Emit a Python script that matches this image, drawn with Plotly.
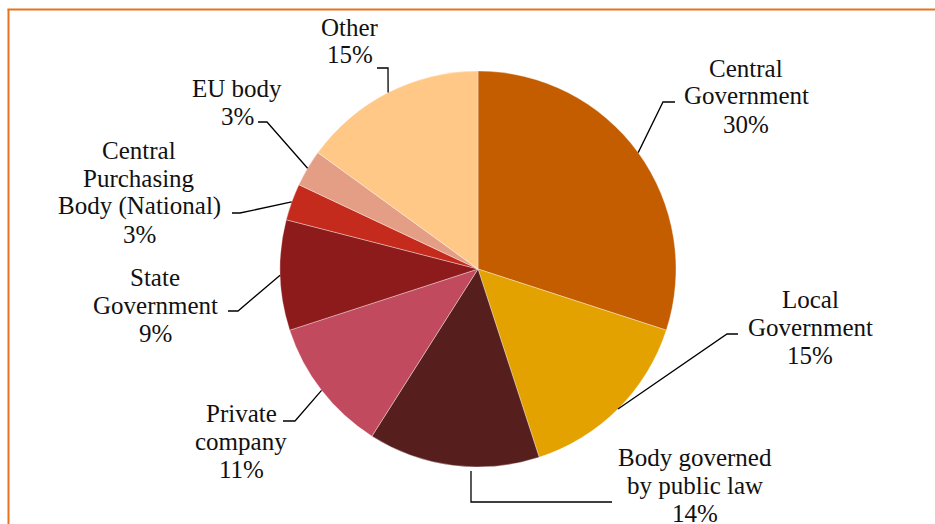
import math
import plotly.graph_objects as go

# Contracting authority types and their share of contracts (%)
categories = [
    "Central\nGovernment",
    "Local\nGovernment",
    "Body governed\nby public law",
    "Private\ncompany",
    "State\nGovernment",
    "Central\nPurchasing\nBody (National)",
    "EU body",
    "Other",
]
shares = [30, 15, 14, 11, 9, 3, 3, 15]
colors = ["#C45C00", "#E3A200", "#561F1E", "#C24A5E",
          "#8E1B1C", "#C42B1C", "#E49E86", "#FFC886"]

W, H = 935, 524
CX, CY, R = 478, 269, 198          # pie centre and radius in pixels

# label block centres (pixels) and leader-line elbows/ends
label_pos = [(746, 96), (810, 327), (695, 485), (241, 441),
             (155, 305), (139, 192), (237, 102), (350, 41)]
leader_elbow = [(663, 102), (727, 334), (471, 502), (295, 421),
                (238, 311), (240, 213), (267, 122), (388, 68)]
leader_end = [(675, 102), (738, 334), (612, 502), (283, 421),
              (228, 311), (232, 213), (258, 122), (377, 68)]
leader_start_override = {2: (471, 471)}

LINE_GAP = 28
FONT = dict(family="Liberation Serif, Times New Roman, serif", size=25, color="#111111")


def px(x):
    return x / W


def py(y):
    return 1 - y / H


fig = go.Figure(go.Pie(
    labels=[c.replace("\n", " ") for c in categories],
    values=shares,
    sort=False,
    direction="clockwise",
    rotation=0,
    textinfo="none",
    hoverinfo="label+percent",
    marker=dict(colors=colors, line=dict(color="rgba(255,255,255,0.6)", width=0.6)),
    domain=dict(x=[px(CX - R), px(CX + R)], y=[py(CY + R), py(CY - R)]),
    showlegend=False,
))

total = sum(shares)
annotations = []
shapes = []
cum = 0
for i, (cat, v) in enumerate(zip(categories, shares)):
    mid = (cum + v / 2) / total * 2 * math.pi
    cum += v
    start = leader_start_override.get(i, (CX + R * math.sin(mid), CY - R * math.cos(mid)))
    pts = [start, leader_elbow[i], leader_end[i]]
    path = "M " + " L ".join(f"{px(x):.5f},{py(y):.5f}" for x, y in pts)
    shapes.append(dict(type="path", path=path, xref="paper", yref="paper",
                       line=dict(color="#000000", width=1.3)))

    lines = cat.split("\n") + [f"{v}%"]
    bx, by = label_pos[i]
    n = len(lines)
    for j, t in enumerate(lines):
        yy = by + (j - (n - 1) / 2) * LINE_GAP
        annotations.append(dict(text=t, x=px(bx), y=py(yy), xref="paper", yref="paper",
                                xanchor="center", yanchor="middle", showarrow=False,
                                font=FONT))

# orange frame along the top and left edges
frame = "#E5731F"
shapes.append(dict(type="line", xref="paper", yref="paper",
                   x0=px(7.5), x1=1, y0=py(9.5), y1=py(9.5),
                   line=dict(color=frame, width=2)))
shapes.append(dict(type="line", xref="paper", yref="paper",
                   x0=px(8.5), x1=px(8.5), y0=py(9.5), y1=0,
                   line=dict(color=frame, width=2)))

fig.update_layout(
    width=W, height=H,
    margin=dict(l=0, r=0, t=0, b=0),
    paper_bgcolor="white",
    plot_bgcolor="white",
    annotations=annotations,
    shapes=shapes,
)

fig.write_html("out.html")
